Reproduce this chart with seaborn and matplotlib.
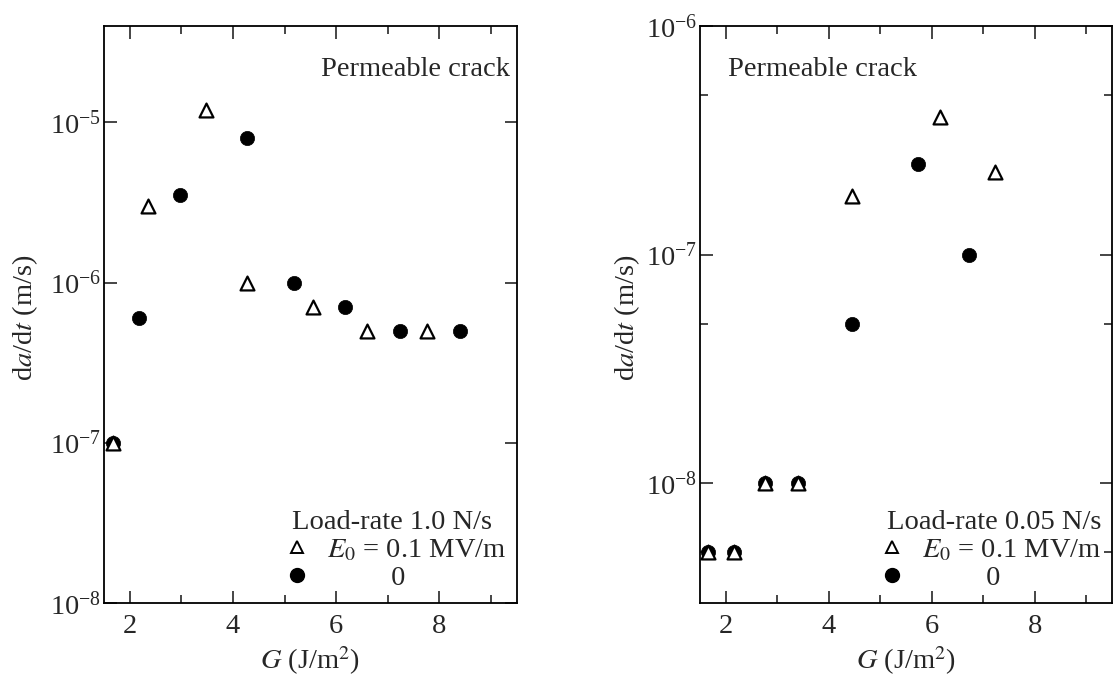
import numpy as np
import pandas as pd
import matplotlib
matplotlib.use("Agg")
import matplotlib.pyplot as plt
import seaborn as sns
from matplotlib.ticker import LogLocator, MultipleLocator, LogFormatterSciNotation, NullLocator
from matplotlib.lines import Line2D

# ---- data: left panel (load-rate 1.0 N/s) ----
left_tri_G = [1.67, 2.36, 3.47, 4.28, 5.55, 6.60, 7.76]
left_tri_v = [1.0e-7, 3.0e-6, 1.2e-5, 1.0e-6, 7.0e-7, 5.0e-7, 5.0e-7]
left_dot_G = [1.67, 2.17, 2.98, 4.28, 5.18, 6.17, 7.24, 8.40]
left_dot_v = [1.0e-7, 6.0e-7, 3.5e-6, 8.0e-6, 1.0e-6, 7.0e-7, 5.0e-7, 5.0e-7]

# ---- data: right panel (load-rate 0.05 N/s) ----
right_tri_G = [1.66, 2.16, 2.76, 3.41, 4.45, 6.16, 7.23]
right_tri_v = [5.0e-9, 5.0e-9, 1.0e-8, 1.0e-8, 1.8e-7, 4.0e-7, 2.3e-7]
right_dot_G = [1.66, 2.16, 2.76, 3.41, 4.45, 5.74, 6.73]
right_dot_v = [5.0e-9, 5.0e-9, 1.0e-8, 1.0e-8, 5.0e-8, 2.5e-7, 1.0e-7]

load_rates = ["Load-rate 1.0 N/s", "Load-rate 0.05 N/s"]
series_labels = [r"$E_0$ = 0.1 MV/m", "0"]
panel_text = "Permeable crack"
xlabel = r"$G$ (J/m$^2$)"
ylabel = r"d$a$/d$t$ (m/s)"

sns.set_style("ticks")
plt.rcParams["font.family"] = ["Liberation Serif", "DejaVu Serif"]
plt.rcParams["mathtext.fontset"] = "stix"
plt.rcParams["axes.linewidth"] = 1.3

fig = plt.figure(figsize=(11.13, 6.76), dpi=100)
axL = fig.add_axes([0.0934, 0.108, 0.371, 0.8536])
axR = fig.add_axes([0.629, 0.108, 0.370, 0.8536])

FS = 20.5

def draw(ax, tG, tv, dG, dv, ylim, title, legend_anchor, text_xy, text_ha,
         minor_subs, ylab_x):
    dfd = pd.DataFrame({"G": dG, "v": dv})
    dft = pd.DataFrame({"G": tG, "v": tv})
    sns.scatterplot(data=dfd, x="G", y="v", ax=ax, marker="o", s=105,
                    color="black", edgecolor="black", linewidth=0.5, zorder=3,
                    label="_nolegend_")
    sns.scatterplot(data=dft, x="G", y="v", ax=ax, marker="^", s=100,
                    facecolor="white", edgecolor="black", linewidth=1.6, zorder=4,
                    label="_nolegend_")
    ax.set_yscale("log")
    ax.set_xlim(1.5, 9.5)
    ax.set_ylim(*ylim)
    ax.xaxis.set_major_locator(MultipleLocator(2))
    ax.xaxis.set_minor_locator(MultipleLocator(1))
    ax.yaxis.set_major_locator(LogLocator(base=10, numticks=20))
    if minor_subs:
        ax.yaxis.set_minor_locator(LogLocator(base=10, subs=minor_subs, numticks=20))
    else:
        ax.yaxis.set_minor_locator(NullLocator())
    ax.yaxis.set_major_formatter(LogFormatterSciNotation())
    ax.tick_params(which="both", direction="in", top=True, right=True,
                   labelsize=FS, width=1.2)
    ax.tick_params(which="major", length=9)
    ax.tick_params(which="minor", length=6)
    ax.tick_params(axis="x", which="major", pad=8)
    ax.tick_params(axis="y", which="major", pad=2)
    ax.set_xlabel(xlabel, fontsize=FS)
    ax.set_ylabel(ylabel, fontsize=FS)
    ax.xaxis.set_label_coords(0.5, -0.071)
    ax.yaxis.set_label_coords(ylab_x, 0.495)
    ax.text(text_xy[0], text_xy[1], panel_text, transform=ax.transAxes,
            fontsize=FS, ha=text_ha, va="center")
    for s in ax.spines.values():
        s.set_visible(True)
        s.set_color("black")
    h1 = Line2D([], [], ls="none", marker="^", ms=8, mfc="white", mec="black", mew=1.4)
    h2 = Line2D([], [], ls="none", marker="o", ms=10, mfc="black", mec="black")
    leg = ax.legend([h1, h2], [series_labels[0], " " * 9 + series_labels[1]],
                    title=title, loc="lower right", bbox_to_anchor=legend_anchor,
                    frameon=False, fontsize=FS, title_fontsize=FS,
                    handletextpad=0.85, borderpad=0.0, labelspacing=0.08,
                    handlelength=0.4, borderaxespad=0.0)
    leg._legend_box.align = "left"

draw(axL, left_tri_G, left_tri_v, left_dot_G, left_dot_v,
     (1e-8, 4.0e-5), load_rates[0], (0.975, 0.02), (0.983, 0.925), "right",
     None, -0.156)
draw(axR, right_tri_G, right_tri_v, right_dot_G, right_dot_v,
     (3.0e-9, 1e-6), load_rates[1], (0.975, 0.02), (0.068, 0.925), "left",
     [5.0], -0.140)

fig.savefig("out.png", dpi=100, facecolor="white")
